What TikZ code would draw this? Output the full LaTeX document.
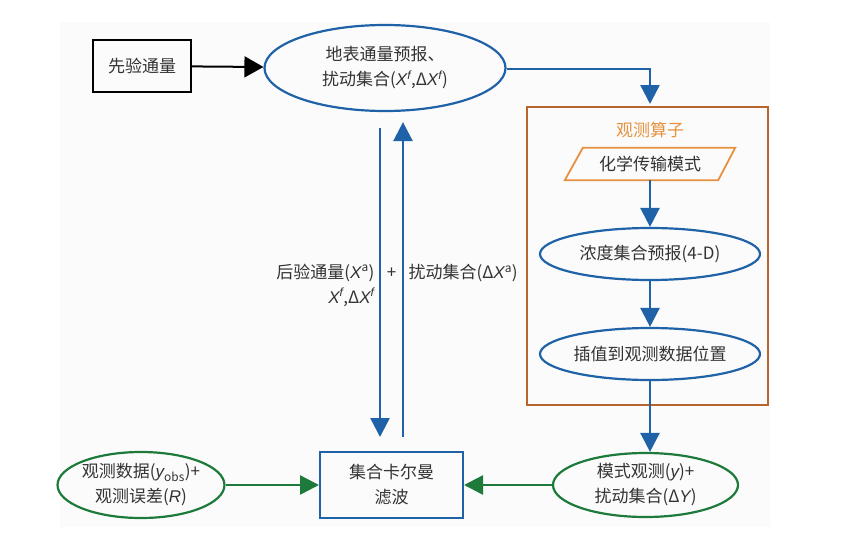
\documentclass[tikz,border=0pt]{standalone}
\usepackage{fontspec}
\setmainfont{Noto Sans CJK SC}
\newfontfamily\lsans{Liberation Sans}
\usetikzlibrary{arrows.meta,shapes.geometric}
\definecolor{cblue}{HTML}{1F62A8}
\definecolor{cgreen}{HTML}{1D7A3A}
\definecolor{corange}{HTML}{B8652E}
\definecolor{clorange}{HTML}{E5913F}
\definecolor{ctext}{HTML}{333333}
\newcommand\iv[1]{{\lsans\itshape #1}}
\begin{document}
\begin{tikzpicture}[x=1pt,y=-1pt,
  font=\fontsize{17}{25}\selectfont, text=ctext,
  bell/.style={ellipse, draw=cblue, line width=2.2pt, inner sep=0pt, align=center},
  gell/.style={ellipse, draw=cgreen, line width=2.2pt, inner sep=0pt, align=center},
  blackbox/.style={rectangle, draw=black, line width=2pt, inner sep=0pt, align=center},
  bluebox/.style={rectangle, draw=cblue, line width=2pt, inner sep=0pt, align=center},
  tip/.style={-{Triangle[length=19pt,width=19pt]}},
  karrow/.style={-{Triangle[length=19pt,width=21pt]}, draw=black, line width=2pt},
  barrow/.style={tip, draw=cblue, line width=2.5pt},
  garrow/.style={tip, draw=cgreen, line width=2.5pt}]
\useasboundingbox (0,0) rectangle (843,546);
\fill[black!1.5] (60,22) rectangle (770,527);

% nodes
\node[blackbox, minimum width=98pt, minimum height=52pt] (prior) at (142,66) {先验通量};
\node[bell, minimum width=241pt, minimum height=86pt] (top) at (385,68)
  {地表通量预报、\\扰动集合(\iv{X}\textsuperscript{\iv{f}},Δ\iv{X}\textsuperscript{\iv{f}})};
\node[draw=corange, line width=2pt, minimum width=241pt, minimum height=298pt, inner sep=0pt] (op) at (647.5,256) {};
\node[text=clorange] (optitle) at (650,130) {观测算子};
\node[minimum width=153pt, minimum height=32pt, inner sep=0pt] (chem) at (650,164) {化学传输模式};
\draw[draw=clorange, line width=1.8pt, line join=miter]
  ([xshift=-8.5pt]chem.south west) -- ([xshift=9.5pt]chem.north west)
  -- ([xshift=8.5pt]chem.north east) -- ([xshift=-8.5pt]chem.south east) -- cycle;
\node[bell, minimum width=220pt, minimum height=52pt] (conc) at (650,254) {浓度集合预报(4-D)};
\node[bell, minimum width=220pt, minimum height=52pt] (interp) at (650,354) {插值到观测数据位置};
\node[gell, minimum width=185pt, minimum height=64pt] (mobs) at (645.5,485)
  {模式观测(\iv{y})+\\扰动集合(Δ\iv{Y})};
\node[bluebox, minimum width=143pt, minimum height=66pt] (kf) at (391.5,485) {集合卡尔曼\\滤波};
\node[gell, minimum width=164pt, minimum height=66pt] (obs) at (141,485)
  {观测数据(\iv{y}\textsubscript{obs})+\\观测误差(\iv{R})};

% labels of the vertical arrows
\node[anchor=east, align=right] (postlab) at (378,285)
  {后验通量(\iv{X}\textsuperscript{a})\\\iv{X}\textsuperscript{\iv{f}},Δ\iv{X}\textsuperscript{\iv{f}}};
\node (plus) at (391.5,273) {+};
\node[anchor=west] (pertlab) at (405,273) {扰动集合(Δ\iv{X}\textsuperscript{a})};

% connectors
\draw[karrow] (prior) -- (top);
\draw[barrow] ([yshift=-1pt]top.east) -| ([yshift=2pt]optitle.north |- op.north);
\draw[barrow] (chem) -- (conc);
\draw[barrow] (conc) -- (interp);
\draw[barrow] (interp) -- (interp |- mobs.north);
\draw[garrow] (mobs) -- (kf);
\draw[garrow] (obs) -- (kf);
\draw[barrow] ([xshift=-5pt,yshift=-16pt]top.south) -- ([xshift=-11.5pt,yshift=14pt]kf.north);
\draw[barrow] ([xshift=11.5pt,yshift=14pt]kf.north) -- ([xshift=18pt,yshift=-10pt]top.south);
\end{tikzpicture}
\end{document}
